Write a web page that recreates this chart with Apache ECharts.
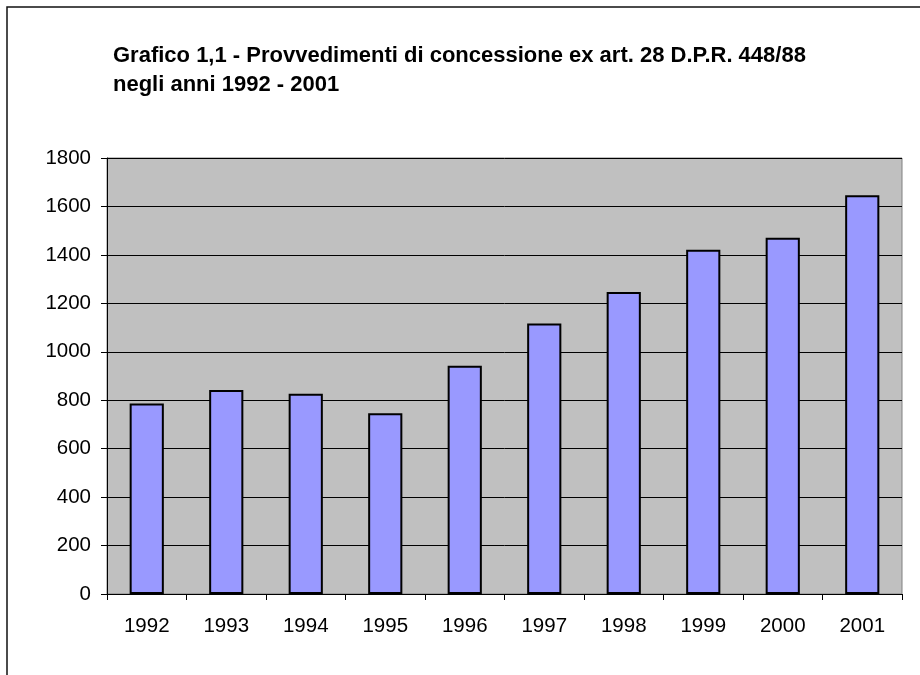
<!DOCTYPE html>
<html>
<head>
<meta charset="utf-8">
<script src="https://cdn.jsdelivr.net/npm/echarts@6/dist/echarts.min.js"></script>
<style>
html,body{margin:0;padding:0;background:#fff;}
#chart{width:920px;height:675px;}
</style>
</head>
<body>
<div id="chart"></div>
<script>
const titleText = "Grafico 1,1 - Provvedimenti di concessione ex art. 28 D.P.R. 448/88\nnegli anni 1992 - 2001";
const years = ["1992","1993","1994","1995","1996","1997","1998","1999","2000","2001"];
const provvedimenti = [786, 842, 827, 746, 942, 1117, 1247, 1421, 1471, 1646];
const yTicks = {min: 0, max: 1800, step: 200};

const chart = echarts.init(document.getElementById('chart'), null, {renderer: 'canvas'});
const font = '"Liberation Sans", Arial, sans-serif';
chart.setOption({
  animation: false,
  backgroundColor: '#ffffff',
  textStyle: {fontFamily: font},
  title: {
    text: titleText,
    left: 108,
    top: 36,
    textStyle: {fontFamily: font, fontSize: 22, fontWeight: 'bold', color: '#000', lineHeight: 29.5}
  },
  graphic: [{
    type: 'rect',
    shape: {x: 7, y: 7, width: 1000, height: 1000},
    style: {fill: 'none', stroke: '#111', lineWidth: 1.5},
    silent: true
  }],
  grid: {
    left: 107, right: 18, top: 158, bottom: 81,
    show: true, backgroundColor: '#c0c0c0', borderColor: '#808080', borderWidth: 1
  },
  xAxis: {
    type: 'category',
    data: years,
    boundaryGap: true,
    axisLine: {lineStyle: {color: '#000', width: 1}},
    axisTick: {show: true, length: 6, lineStyle: {color: '#000'}},
    axisLabel: {fontSize: 20.5, color: '#000', margin: 22, fontFamily: font}
  },
  yAxis: {
    type: 'value',
    min: yTicks.min, max: yTicks.max, interval: yTicks.step,
    axisLine: {show: true, lineStyle: {color: '#000', width: 1}},
    axisTick: {show: true, length: 6, lineStyle: {color: '#000'}},
    axisLabel: {fontSize: 20.5, color: '#000', margin: 16, fontFamily: font, formatter: v => String(v)},
    splitLine: {show: true, lineStyle: {color: '#000', width: 1}}
  },
  series: [{
    type: 'bar',
    data: provvedimenti,
    barCategoryGap: '57%',
    itemStyle: {color: '#9999ff', borderColor: '#000', borderWidth: 2}
  }]
});
</script>
</body>
</html>
